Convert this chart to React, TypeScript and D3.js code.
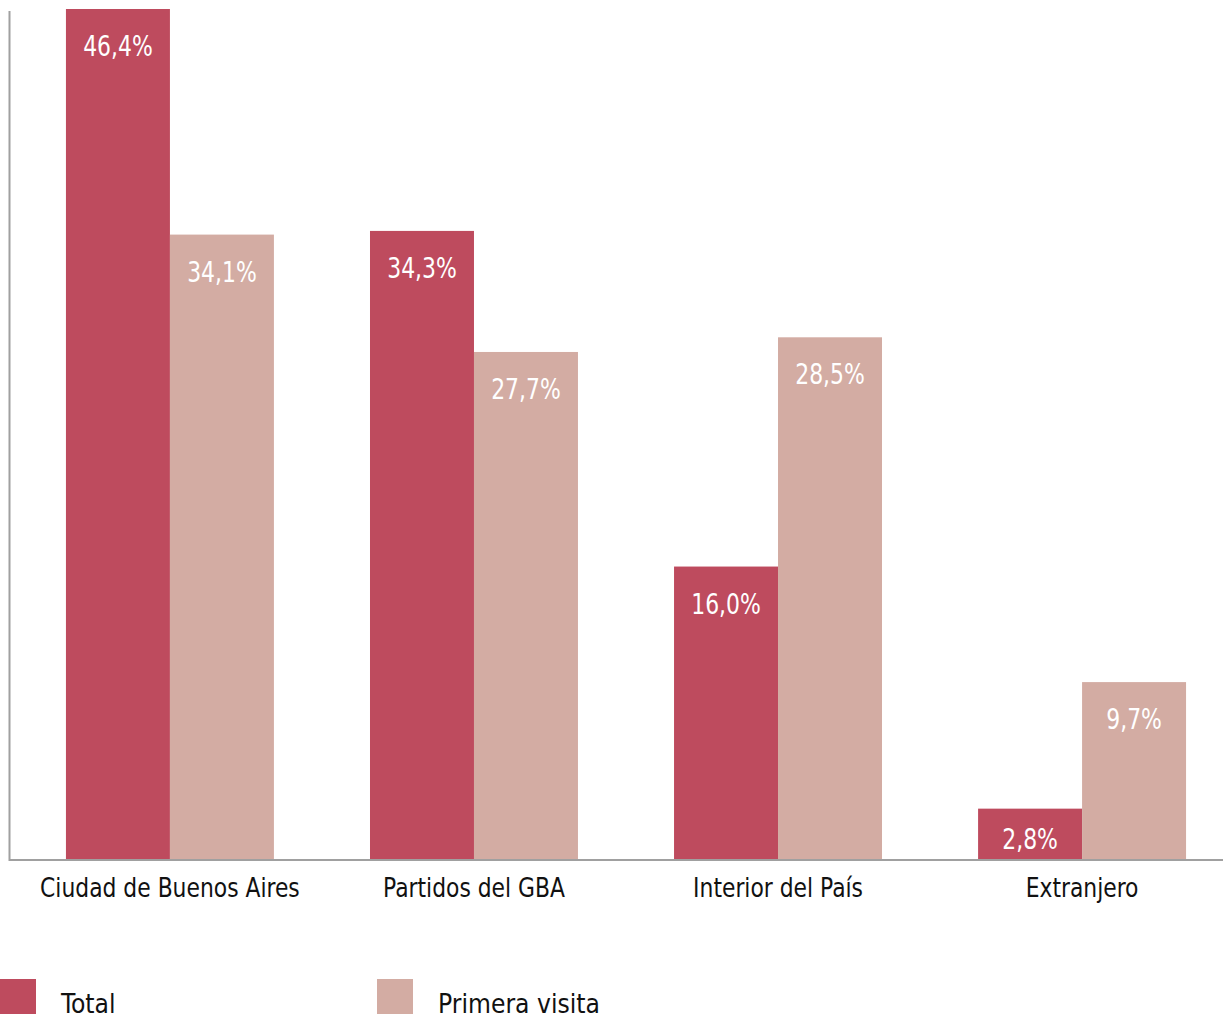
import React from "react";
import * as d3 from "d3";

const categories = ["Ciudad de Buenos Aires", "Partidos del GBA", "Interior del País", "Extranjero"];
const series = ["Total", "Primera visita"];
const totalValues = [46.4, 34.3, 16.0, 2.8];
const primeraValues = [34.1, 27.7, 28.5, 9.7];
const colors = ["#BE4B5E", "#D3ACA3"];

const W = 1223;
const H = 1018;
const FONT = "'DejaVu Sans Condensed', 'DejaVu Sans', sans-serif";

export default function App() {
  const x = d3.scaleBand<string>().domain(categories).range([10, 1242]).paddingInner(0.316).paddingOuter(0.184);
  const xi = d3.scaleBand<string>().domain(series).range([0, x.bandwidth()]).padding(0);
  const y = d3.scaleLinear().domain([0, 46.4]).range([860, 9]);
  const data = categories.map((c, i) => ({ c, vals: [totalValues[i], primeraValues[i]] }));
  const fmt = (v: number) => v.toFixed(1).replace(".", ",") + "%";

  return (
    <svg width={W} height={H} style={{ position: "absolute", left: 0, top: 0 }} fontFamily={FONT}>
      {data.map((d) => (
        <g key={d.c} transform={`translate(${x(d.c)},0)`}>
          {d.vals.map((v, j) => {
            const bx = xi(series[j])!;
            const top = y(v);
            const ty = Math.min(top + 47, y(0) - 11);
            return (
              <g key={j}>
                <rect x={bx} y={top} width={xi.bandwidth()} height={y(0) - top} fill={colors[j]} />
                <text
                  transform={`translate(${bx + xi.bandwidth() / 2},${ty}) scale(0.87,1)`}
                  textAnchor="middle"
                  fill="#fff"
                  fontSize={28}
                >
                  {fmt(v)}
                </text>
              </g>
            );
          })}
          <text
            transform={`translate(${x.bandwidth() / 2},897) scale(0.9,1)`}
            textAnchor="middle"
            fill="#111"
            fontSize={27}
          >
            {d.c}
          </text>
        </g>
      ))}
      <line x1={9.5} x2={9.5} y1={11} y2={861} stroke="#a0a0a0" strokeWidth={2} />
      <line x1={9} x2={W} y1={860} y2={860} stroke="#a0a0a0" strokeWidth={2} />
      {series.map((s, j) => {
        const lx = j === 0 ? 0 : 377;
        return (
          <g key={s}>
            <rect x={lx} y={979} width={36} height={35} fill={colors[j]} />
            <text transform={`translate(${lx + 61},1013) scale(0.97,1)`} fill="#111" fontSize={27}>
              {s}
            </text>
          </g>
        );
      })}
    </svg>
  );
}
